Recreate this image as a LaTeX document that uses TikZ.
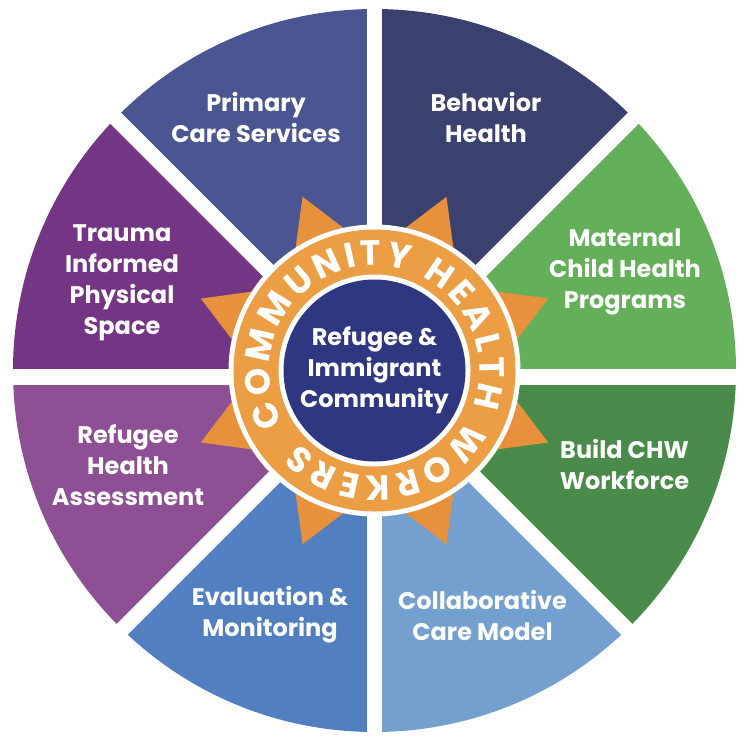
\documentclass[tikz,border=0pt]{standalone}
\usepackage{fontspec}
\setmainfont{Poppins}
\usetikzlibrary{calc,decorations.text}
\definecolor{cPrim}{HTML}{4B5592}
\definecolor{cBeh}{HTML}{3A416F}
\definecolor{cMat}{HTML}{64B05A}
\definecolor{cBuild}{HTML}{4A8A4A}
\definecolor{cColl}{HTML}{74A0D0}
\definecolor{cEval}{HTML}{517FBF}
\definecolor{cRef}{HTML}{8E5095}
\definecolor{cTrau}{HTML}{753585}
\definecolor{cRay}{HTML}{E8913C}
\definecolor{cRing}{HTML}{EC9E45}
\definecolor{cIn}{HTML}{2F3780}
\newcommand\ringfont{\color{white}\bfseries\fontsize{35}{35}\selectfont}
\tikzset{
  lbl/.style={text=white, align=center, font=\bfseries\fontsize{24}{31}\selectfont},
  gap/.style={white, line width=15.5pt}
}
\begin{document}
\begin{tikzpicture}[x=1pt,y=1pt]
\useasboundingbox (0,0) rectangle (752,-748);
\coordinate (C) at (374.5,-370.5);
\coordinate (G) at (374.5,-377);
\begin{scope}
  \clip (C) circle (361.5);
  \fill[cMat]   (G) -- +(0:700)   -- +(45:700)  -- cycle;
  \fill[cBeh]   (G) -- +(45:700)  -- +(90:700)  -- cycle;
  \fill[cPrim]  (G) -- +(90:700)  -- +(135:700) -- cycle;
  \fill[cTrau]  (G) -- +(135:700) -- +(180:700) -- cycle;
  \fill[cRef]   (G) -- +(180:700) -- +(225:700) -- cycle;
  \fill[cEval]  (G) -- +(225:700) -- +(270:700) -- cycle;
  \fill[cColl]  (G) -- +(270:700) -- +(315:700) -- cycle;
  \fill[cBuild] (G) -- +(315:700) -- +(360:700) -- cycle;
\end{scope}
\foreach \a in {0,45,...,315} \draw[gap] (G) -- +(\a:420);
% sun
\fill[cRay] ($(C)+(22.5:188)$)
  \foreach \k in {0,...,7}{ -- ($(C)+(22.5+45*\k:188)$) -- ($(C)+(45+45*\k:119)$) } -- cycle;
\fill[white] (C) circle (146);
\fill[cRing] (C) circle (141);
\fill[white] (C) circle (96);
\fill[cIn] (C) circle (91);
\path[decorate,
  decoration={text along path, text align={fit to path},
  text={|\ringfont|COMMUNITY HEALTH WORKERS}}]
  ($(C)+(210:105)$) arc[start angle=210, end angle=-136, radius=105];
\node[lbl] (center) at (374.5,-370) {Refugee \&\\Immigrant\\Community};
\node[lbl] (prim) at (256,-117) {Primary\\Care Services};
\node[lbl] (beh) at (486,-117) {Behavior\\Health};
\node[lbl] (mat) at (625,-272) {Maternal\\Child Health\\Programs};
\node[lbl] (build) at (624.5,-464) {Build CHW\\Workforce};
\node[lbl] (coll) at (482.5,-615) {Collaborative\\Care Model};
\node[lbl] (eval) at (270,-615) {Evaluation \&\\Monitoring};
\node[lbl] (ref) at (128,-465) {Refugee\\Health\\Assessment};
\node[lbl] (trau) at (122,-283) {Trauma\\Informed\\Physical\\Space};
\end{tikzpicture}
\end{document}
